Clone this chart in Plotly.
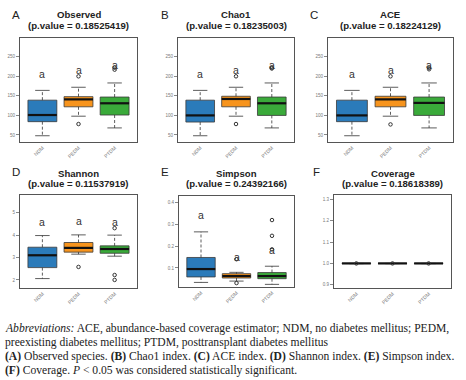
import plotly.graph_objects as go

W, H = 466, 380

groups = ["NDM", "PEDM", "PTDM"]
colors = ["#2b7bba", "#f7941d", "#3aaa3a"]

# ---- data (per panel, per group in order NDM, PEDM, PTDM) ----
observed_low = [48, 98, 68]
observed_q1 = [84, 122, 101]
observed_med = [101, 141, 131]
observed_q3 = [139, 148, 147]
observed_high = [164, 172, 183]
observed_out = [[], [78, 200], [217, 222]]
observed_letter = [207, 216, 229]

chao1_low = [48, 98, 68]
chao1_q1 = [83, 122, 100]
chao1_med = [100, 142, 131]
chao1_q3 = [139, 149, 147]
chao1_high = [164, 172, 183]
chao1_out = [[], [78, 200], [220, 222]]
chao1_letter = [207, 216, 228]

ace_low = [48, 98, 68]
ace_q1 = [84, 122, 100]
ace_med = [100, 141, 132]
ace_q3 = [139, 149, 147]
ace_high = [164, 172, 183]
ace_out = [[], [77, 200], [218, 222]]
ace_letter = [207, 216, 228]

shannon_low = [2.06, 3.15, 3.06]
shannon_q1 = [2.55, 3.24, 3.19]
shannon_med = [3.10, 3.43, 3.38]
shannon_q3 = [3.46, 3.67, 3.52]
shannon_high = [3.98, 4.01, 4.00]
shannon_out = [[], [2.58], [4.31, 2.22, 2.00]]
shannon_letter = [4.58, 4.62, 4.60]

simpson_low = [0.034, 0.040, 0.025]
simpson_q1 = [0.059, 0.054, 0.051]
simpson_med = [0.095, 0.063, 0.063]
simpson_q3 = [0.148, 0.074, 0.079]
simpson_high = [0.265, 0.080, 0.108]
simpson_out = [[], [0.031, 0.140], [0.319, 0.247, 0.185]]
simpson_letter = [0.342, 0.150, 0.180]

coverage_low = [0.999, 0.999, 0.999]
coverage_q1 = [0.9995, 0.9995, 0.9995]
coverage_med = [1.0, 1.0, 1.0]
coverage_q3 = [1.0, 1.0, 1.0]
coverage_high = [1.0, 1.0, 1.0]
coverage_out = [[1.0], [1.0], [1.0]]

panel_letters = ["A", "B", "C", "D", "E", "F"]
panel_titles = ["Observed", "Chao1", "ACE", "Shannon", "Simpson", "Coverage"]
panel_pvalues = ["0.18525419", "0.18235003", "0.18224129",
                 "0.11537919", "0.24392166", "0.18618389"]

ticks_rich = [50, 100, 150, 200, 250]
ticks_shannon = [2, 3, 4, 5]
ticks_simpson = [0.1, 0.2, 0.3, 0.4]
ticks_coverage = [0.9, 1.0, 1.1, 1.2, 1.3]
ticktext_simpson = ["0.1", "0.2", "0.3", "0.4"]
ticktext_coverage = ["0.9", "1.0", "1.1", "1.2", "1.3"]

panels = [
    (observed_low, observed_q1, observed_med, observed_q3, observed_high, observed_out, observed_letter,
     [32, 298], ticks_rich, [str(t) for t in ticks_rich]),
    (chao1_low, chao1_q1, chao1_med, chao1_q3, chao1_high, chao1_out, chao1_letter,
     [32, 298], ticks_rich, [str(t) for t in ticks_rich]),
    (ace_low, ace_q1, ace_med, ace_q3, ace_high, ace_out, ace_letter,
     [32, 298], ticks_rich, [str(t) for t in ticks_rich]),
    (shannon_low, shannon_q1, shannon_med, shannon_q3, shannon_high, shannon_out, shannon_letter,
     [1.64, 5.79], ticks_shannon, [str(t) for t in ticks_shannon]),
    (simpson_low, simpson_q1, simpson_med, simpson_q3, simpson_high, simpson_out, simpson_letter,
     [0.013, 0.429], ticks_simpson, ticktext_simpson),
    (coverage_low, coverage_q1, coverage_med, coverage_q3, coverage_high, coverage_out, None,
     [0.885, 1.32], ticks_coverage, ticktext_coverage),
]

# plot-area pixel boxes (left, right, top, bottom)
areas = [
    (20, 137, 38, 142), (178, 294, 38, 142), (328, 453, 38, 142),
    (20, 137, 195, 288), (179, 294, 196, 287), (334, 451, 195, 288),
]

BOXW = 0.8
CAPW = 0.4
SANS = "Liberation Sans, Arial, sans-serif"
SERIF = "Liberation Serif, Times New Roman, serif"

fig = go.Figure()
layout = {}
annotations = []

for i, (low, q1, med, q3, high, outs, letter_y, yr, tv, tt) in enumerate(panels):
    n = i + 1
    xa = "x" if n == 1 else f"x{n}"
    ya = "y" if n == 1 else f"y{n}"
    L, R, T, B = areas[i]
    xs = [1, 2, 3]

    for g in range(3):
        fig.add_trace(go.Box(
            x=[xs[g]], q1=[q1[g]], median=[med[g]], q3=[q3[g]],
            lowerfence=[q1[g]], upperfence=[q3[g]],
            width=BOXW, whiskerwidth=0, fillcolor=colors[g],
            line=dict(color="#3a3a3a", width=0.8), boxpoints=False,
            xaxis=xa, yaxis=ya, showlegend=False, hoverinfo="skip"))

    # whiskers (dashed)
    wx, wy = [], []
    for g in range(3):
        wx += [xs[g], xs[g], None, xs[g], xs[g], None]
        wy += [q3[g], high[g], None, q1[g], low[g], None]
    fig.add_trace(go.Scatter(x=wx, y=wy, mode="lines",
                             line=dict(color="#333", width=0.8, dash="3px,2px"),
                             xaxis=xa, yaxis=ya, showlegend=False, hoverinfo="skip"))
    # caps
    cx, cy = [], []
    for g in range(3):
        cx += [xs[g] - CAPW / 2, xs[g] + CAPW / 2, None, xs[g] - CAPW / 2, xs[g] + CAPW / 2, None]
        cy += [high[g], high[g], None, low[g], low[g], None]
    fig.add_trace(go.Scatter(x=cx, y=cy, mode="lines",
                             line=dict(color="#333", width=0.8),
                             xaxis=xa, yaxis=ya, showlegend=False, hoverinfo="skip"))
    # medians
    mx, my = [], []
    for g in range(3):
        mx += [xs[g] - BOXW / 2, xs[g] + BOXW / 2, None]
        my += [med[g], med[g], None]
    fig.add_trace(go.Scatter(x=mx, y=my, mode="lines",
                             line=dict(color="#111", width=2.2),
                             xaxis=xa, yaxis=ya, showlegend=False, hoverinfo="skip"))
    # outliers
    ox, oy = [], []
    for g in range(3):
        for v in outs[g]:
            ox.append(xs[g])
            oy.append(v)
    fig.add_trace(go.Scatter(x=ox, y=oy, mode="markers",
                             marker=dict(symbol="circle-open", size=3.5, color="#333", line=dict(width=1)),
                             xaxis=xa, yaxis=ya, showlegend=False, hoverinfo="skip"))
    # letters
    if letter_y is not None:
        for g in range(3):
            annotations.append(dict(x=xs[g], y=letter_y[g], xref=xa, yref=ya, text="a",
                                    showarrow=False, yanchor="middle",
                                    font=dict(family=SANS, size=10.5, color="#333")))

    key = "" if n == 1 else str(n)
    layout["xaxis" + key] = dict(
        domain=[L / W, R / W], range=[0.38, 3.62], anchor=ya,
        tickvals=xs, ticktext=groups, tickangle=-45,
        tickfont=dict(family=SANS, size=5, color="#777"),
        ticks="", showgrid=False, zeroline=False,
        showline=True, mirror=True, linecolor="#555", linewidth=1)
    layout["yaxis" + key] = dict(
        domain=[1 - B / H, 1 - T / H], range=yr, anchor=xa,
        tickvals=tv, ticktext=tt,
        tickfont=dict(family=SANS, size=4.5, color="#777"),
        ticks="outside", ticklen=3, tickcolor="#888", tickwidth=0.7,
        showgrid=False, zeroline=False,
        showline=True, mirror=True, linecolor="#555", linewidth=1)

    cxp = (L + R) / 2 / W
    ty1 = 14 if i < 3 else 173
    ty2 = 26 if i < 3 else 184
    annotations.append(dict(x=cxp, y=1 - ty1 / H, xref="paper", yref="paper",
                            text=f"<b>{panel_titles[i]}</b>", showarrow=False,
                            xanchor="center", yanchor="middle",
                            font=dict(family=SANS, size=9.6, color="#222")))
    annotations.append(dict(x=cxp, y=1 - ty2 / H, xref="paper", yref="paper",
                            text=f"<b>(p.value = {panel_pvalues[i]})</b>", showarrow=False,
                            xanchor="center", yanchor="middle",
                            font=dict(family=SANS, size=9.6, color="#222")))
    lx = [16, 165, 314, 16, 165, 316][i]
    ly = 15 if i < 3 else 172
    annotations.append(dict(x=lx / W, y=1 - ly / H, xref="paper", yref="paper",
                            text=panel_letters[i], showarrow=False,
                            xanchor="center", yanchor="middle",
                            font=dict(family=SANS, size=11.5, color="#222")))

caption_lines = [
    "<i>Abbreviations:</i> ACE, abundance-based coverage estimator; NDM, no diabetes mellitus; PEDM,",
    "preexisting diabetes mellitus; PTDM, posttransplant diabetes mellitus",
    "<b>(A)</b> Observed species. <b>(B)</b> Chao1 index. <b>(C)</b> ACE index. <b>(D)</b> Shannon index. <b>(E)</b> Simpson index.",
    "<b>(F)</b> Coverage. <i>P</i> &lt; 0.05 was considered statistically significant.",
]
caption_y = [328, 342, 356, 370]
for t, yy in zip(caption_lines, caption_y):
    annotations.append(dict(x=3 / W, y=1 - yy / H, xref="paper", yref="paper",
                            text=t, showarrow=False, xanchor="left", yanchor="middle",
                            font=dict(family=SERIF, size=11.6, color="#222")))

fig.update_layout(
    width=W, height=H, margin=dict(l=0, r=0, t=0, b=0),
    paper_bgcolor="white", plot_bgcolor="white",
    boxmode="overlay", annotations=annotations, **layout)

fig.write_html("out.html", config={"displayModeBar": False},
               post_script="document.body.style.margin='0';document.body.style.padding='0';")
